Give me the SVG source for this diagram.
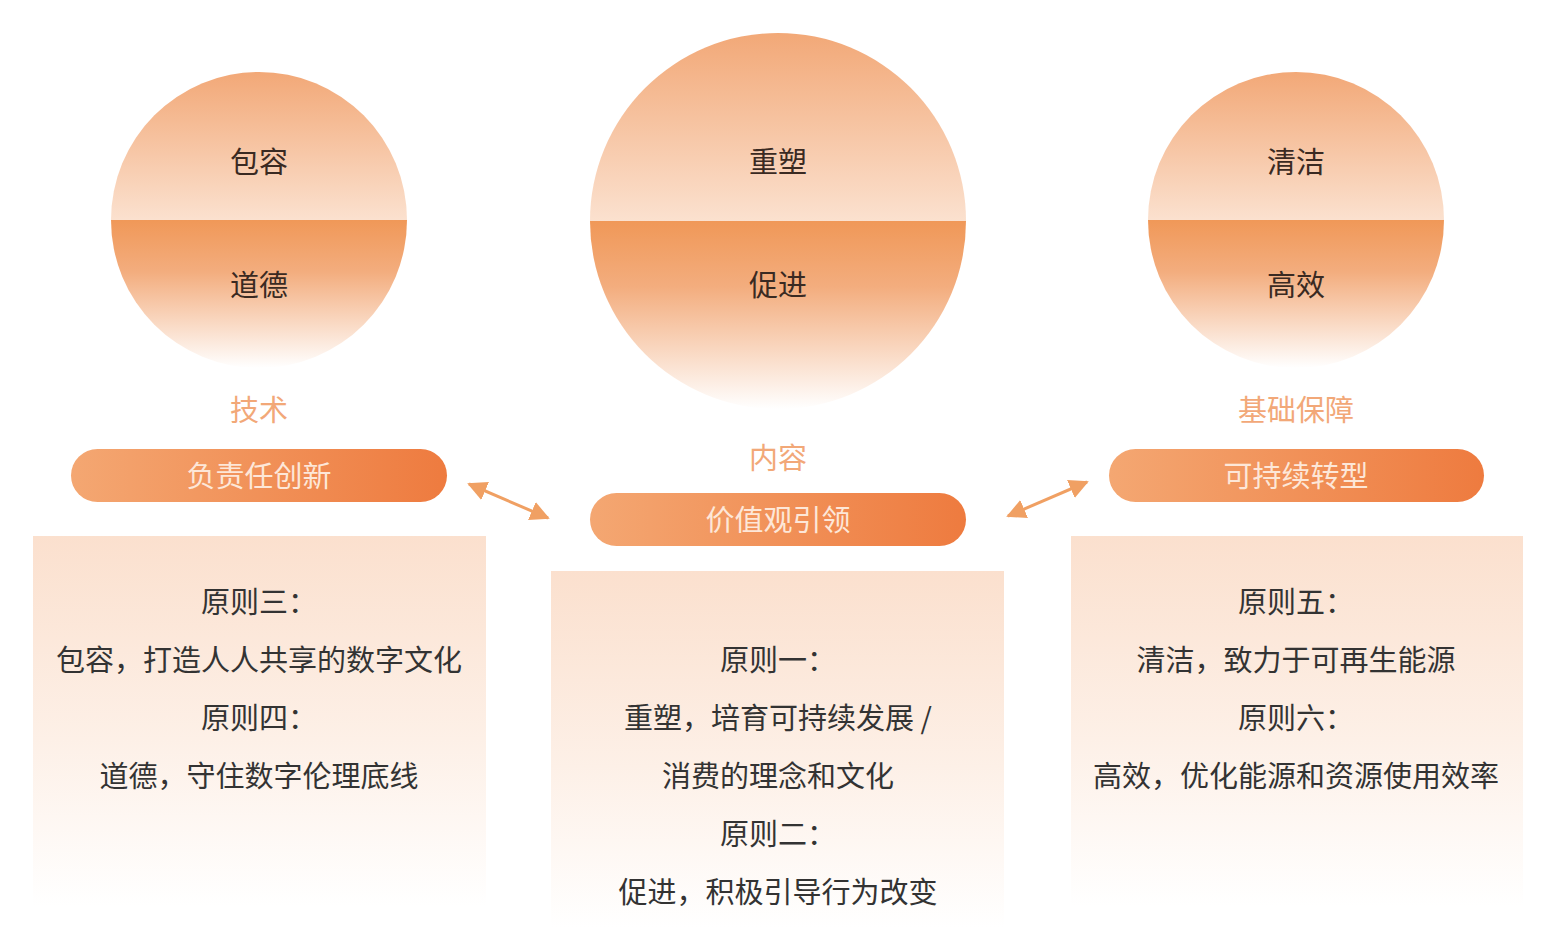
<svg xmlns="http://www.w3.org/2000/svg" width="1555" height="927" viewBox="0 0 1555 927">
  <defs>
    <linearGradient id="topHalf" x1="0" y1="0" x2="0" y2="1">
      <stop offset="0" stop-color="#f2a877"/>
      <stop offset="1" stop-color="#fbe1cf"/>
    </linearGradient>
    <linearGradient id="botHalf" x1="0" y1="0" x2="0" y2="1">
      <stop offset="0" stop-color="#f09858"/>
      <stop offset="0.35" stop-color="#f3ad7e"/>
      <stop offset="1" stop-color="#ffffff"/>
    </linearGradient>
    <linearGradient id="pill" x1="0" y1="0" x2="1" y2="0">
      <stop offset="0" stop-color="#f4a772"/>
      <stop offset="1" stop-color="#ee7b3f"/>
    </linearGradient>
    <linearGradient id="box" x1="0" y1="0" x2="0" y2="1">
      <stop offset="0" stop-color="#fbe0ce"/>
      <stop offset="0.55" stop-color="#fdf0e7"/>
      <stop offset="1" stop-color="#ffffff"/>
    </linearGradient>
    <clipPath id="cL"><circle cx="259" cy="220" r="148"/></clipPath>
    <clipPath id="cC"><circle cx="778" cy="221" r="188"/></clipPath>
    <clipPath id="cR"><circle cx="1296" cy="220" r="148"/></clipPath>
    <marker id="ah" viewBox="0 0 10 10" refX="9" refY="5" markerWidth="6.5" markerHeight="6.5" orient="auto-start-reverse" markerUnits="strokeWidth">
      <path d="M0,0 L10,5 L0,10 Z" fill="#f0a063"/>
    </marker>
  </defs>
  <style>
    text { font-family: "Noto Sans CJK SC", "Noto Sans", sans-serif; text-anchor: middle; dominant-baseline: central; }
    .ct { font-size: 29px; fill: #3a2a22; }
    .lbl { font-size: 29px; fill: #f2a878; }
    .pt { font-size: 29px; fill: #fde7d8; }
    .bt { font-size: 29px; fill: #333333; }
    .conn { stroke: #f0a063; stroke-width: 3; fill: none; }
  </style>
  <rect width="1555" height="927" fill="#ffffff"/>

  <g id="circle-left">
    <g clip-path="url(#cL)">
      <rect x="111" y="72" width="296" height="148" fill="url(#topHalf)"/>
      <rect x="111" y="220" width="296" height="148" fill="url(#botHalf)"/>
    </g>
    <text class="ct" x="259" y="160">包容</text>
    <text class="ct" x="259" y="283">道德</text>
  </g>
  <g id="circle-center">
    <g clip-path="url(#cC)">
      <rect x="590" y="33" width="376" height="188" fill="url(#topHalf)"/>
      <rect x="590" y="221" width="376" height="188" fill="url(#botHalf)"/>
    </g>
    <text class="ct" x="778" y="160">重塑</text>
    <text class="ct" x="778" y="283">促进</text>
  </g>
  <g id="circle-right">
    <g clip-path="url(#cR)">
      <rect x="1148" y="72" width="296" height="148" fill="url(#topHalf)"/>
      <rect x="1148" y="220" width="296" height="148" fill="url(#botHalf)"/>
    </g>
    <text class="ct" x="1296" y="160">清洁</text>
    <text class="ct" x="1296" y="283">高效</text>
  </g>

  <g id="label-left"><text class="lbl" x="259" y="408">技术</text></g>
  <g id="label-center"><text class="lbl" x="778" y="456">内容</text></g>
  <g id="label-right"><text class="lbl" x="1296" y="408">基础保障</text></g>

  <g id="pill-left">
    <rect x="71" y="449" width="376" height="53" rx="26.5" fill="url(#pill)"/>
    <text class="pt" x="259" y="474">负责任创新</text>
  </g>
  <g id="pill-center">
    <rect x="590" y="493" width="376" height="53" rx="26.5" fill="url(#pill)"/>
    <text class="pt" x="778" y="518">价值观引领</text>
  </g>
  <g id="pill-right">
    <rect x="1109" y="449" width="375" height="53" rx="26.5" fill="url(#pill)"/>
    <text class="pt" x="1296" y="474">可持续转型</text>
  </g>

  <g id="connectors">
    <line class="conn" x1="469" y1="484" x2="548" y2="518" marker-start="url(#ah)" marker-end="url(#ah)"/>
    <line class="conn" x1="1008" y1="516" x2="1087" y2="482" marker-start="url(#ah)" marker-end="url(#ah)"/>
  </g>

  <g id="box-left">
    <rect x="33" y="536" width="453" height="370" fill="url(#box)"/>
    <text class="bt" x="259" y="600">原则三：</text>
    <text class="bt" x="259" y="658">包容，打造人人共享的数字文化</text>
    <text class="bt" x="259" y="716">原则四：</text>
    <text class="bt" x="259" y="774">道德，守住数字伦理底线</text>
  </g>
  <g id="box-center">
    <rect x="551" y="571" width="453" height="356" fill="url(#box)"/>
    <text class="bt" x="778" y="658">原则一：</text>
    <text class="bt" x="778" y="716">重塑，培育可持续发展 /</text>
    <text class="bt" x="778" y="774">消费的理念和文化</text>
    <text class="bt" x="778" y="832">原则二：</text>
    <text class="bt" x="778" y="890">促进，积极引导行为改变</text>
  </g>
  <g id="box-right">
    <rect x="1071" y="536" width="452" height="370" fill="url(#box)"/>
    <text class="bt" x="1296" y="600">原则五：</text>
    <text class="bt" x="1296" y="658">清洁，致力于可再生能源</text>
    <text class="bt" x="1296" y="716">原则六：</text>
    <text class="bt" x="1296" y="774">高效，优化能源和资源使用效率</text>
  </g>
</svg>
